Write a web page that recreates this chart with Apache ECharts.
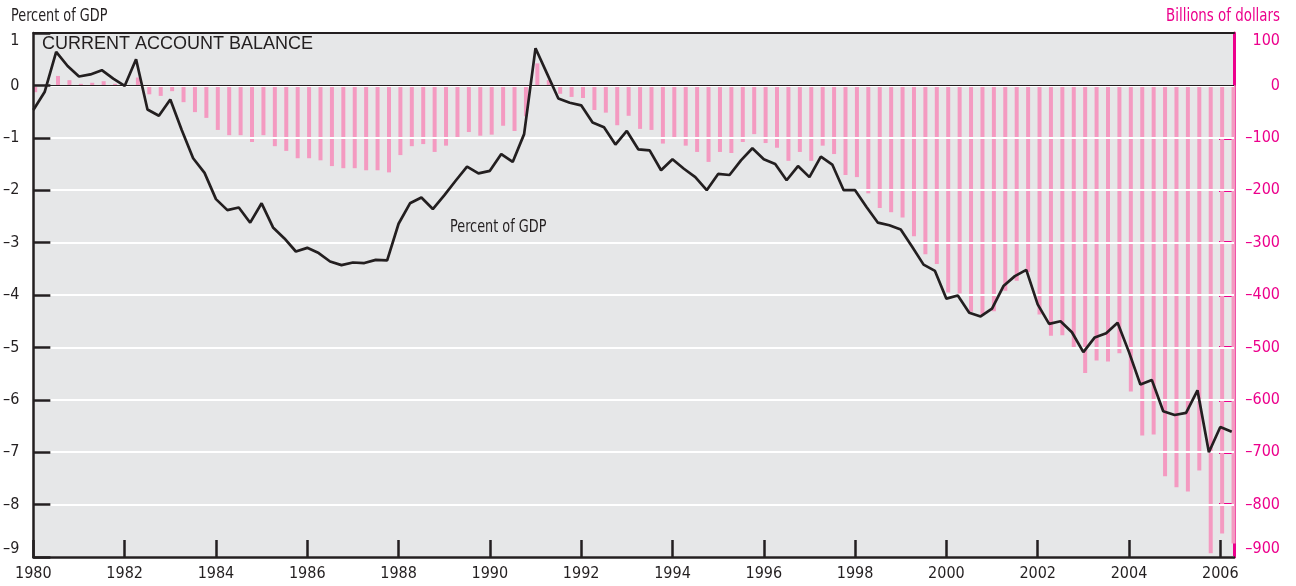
<!DOCTYPE html>
<html>
<head>
<meta charset="utf-8">
<script src="https://cdn.jsdelivr.net/npm/echarts@6/dist/echarts.min.js"></script>
<style>
html,body{margin:0;padding:0;background:#ffffff;}
#chart{width:1296px;height:586px;}
</style>
</head>
<body>
<div id="chart"></div>
<script>
// ---- Data (quarterly, 1980 Q1 – 2006 Q2) ----
const startYear = 1980;
const quartersPerYear = 4;

// Current account balance, percent of GDP (line, left axis)
const percentOfGDP = [
  -0.47, -0.12, 0.64, 0.37,   0.17, 0.21, 0.29, 0.13,     // 1980-81
  -0.01, 0.50, -0.46, -0.58,  -0.27, -0.85, -1.39, -1.67, // 1982-83
  -2.17, -2.38, -2.33, -2.62, -2.25, -2.71, -2.92, -3.17, // 1984-85
  -3.10, -3.20, -3.36, -3.43, -3.38, -3.39, -3.33, -3.34, // 1986-87
  -2.64, -2.25, -2.14, -2.36, -2.10, -1.82, -1.55, -1.68, // 1988-89
  -1.63, -1.31, -1.46, -0.93, 0.71, 0.23, -0.25, -0.33,   // 1990-91
  -0.38, -0.71, -0.80, -1.13, -0.87, -1.22, -1.24, -1.62, // 1992-93
  -1.41, -1.59, -1.75, -2.00, -1.69, -1.71, -1.43, -1.20, // 1994-95
  -1.41, -1.50, -1.81, -1.54, -1.75, -1.36, -1.51, -2.00, // 1996-97
  -2.00, -2.32, -2.62, -2.67, -2.75, -3.08, -3.42, -3.54, // 1998-99
  -4.07, -4.01, -4.34, -4.41, -4.26, -3.83, -3.64, -3.52, // 2000-01
  -4.18, -4.55, -4.50, -4.71, -5.09, -4.81, -4.73, -4.53, // 2002-03
  -5.09, -5.71, -5.62, -6.22, -6.29, -6.25, -5.82, -7.00, // 2004-05
  -6.52, -6.61                                             // 2006
];

// Current account balance, billions of dollars (bars, right axis)
const billionsOfDollars = [
  -13, -2, 18, 10,       3, 5, 8, 3,                // 1980-81
  -1, 15, -17, -20,      -11, -32, -51, -62,        // 1982-83
  -85, -95, -95, -108,   -95, -116, -125, -139,     // 1984-85
  -139, -143, -154, -158, -158, -162, -162, -166,   // 1986-87
  -133, -116, -112, -127, -115, -100, -89, -96,     // 1988-89
  -94, -77, -87, -59,    42, 10, -16, -22,          // 1990-91
  -24, -47, -52, -76,    -58, -83, -85, -111,       // 1992-93
  -100, -115, -127, -146, -127, -129, -108, -93,    // 1994-95
  -110, -119, -144, -127, -144, -115, -131, -171,   // 1996-97
  -175, -206, -234, -242, -252, -288, -322, -341,   // 1998-99
  -395, -397, -432, -439, -431, -392, -373, -356,   // 2000-01
  -437, -478, -477, -502, -549, -525, -527, -511,   // 2002-03
  -584, -668, -666, -746, -767, -775, -735, -893,   // 2004-05
  -855, -874                                         // 2006
];

const xTickLabels = ['1980','1982','1984','1986','1988','1990','1992','1994','1996','1998','2000','2002','2004','2006'];
const leftTickLabels = ['1','0','–1','–2','–3','–4','–5','–6','–7','–8','–9'];
const rightTickLabels = ['100','0','–100','–200','–300','–400','–500','–600','–700','–800','–900'];
const rightTickMarks = [-800, -700, -600, -500, -400, -300, -200, -100];

// ---- Build series positions (decimal years) ----
const quarterPos = percentOfGDP.map((_, i) => startYear + i / quartersPerYear);
const barShift = 0.04; // bars sit just to the right of the quarter point
const lineData = percentOfGDP.map((v, i) => [quarterPos[i], v]);
const barData = billionsOfDollars.map((v, i) => [quarterPos[i] + barShift, v]);
const xTickValues = xTickLabels.map(Number);

const NARROW = "'Liberation Sans Narrow', 'DejaVu Sans Condensed', sans-serif";
const WIDE = "'Liberation Sans', Arial, sans-serif";
const INK = '#231f20';
const MAGENTA = '#ec008c';
const PINK = '#f49ac1';
const AXIS_FONT = 16;

const chart = echarts.init(document.getElementById('chart'), null, {renderer: 'canvas'});
const option = {
  animation: false,
  grid: {
    left: 32, right: 62, top: 33, bottom: 29,
    show: true, backgroundColor: '#e6e7e8', borderWidth: 0
  },
  xAxis: [
    {
      type: 'value', min: 1980, max: 2006.3, interval: 2, position: 'bottom', z: 3,
      axisLine: {show: true, onZero: false, lineStyle: {color: INK, width: 2.5}},
      axisTick: {show: true, inside: true, length: 17, customValues: xTickValues,
        lineStyle: {color: INK, width: 2.5}},
      axisLabel: {
        margin: 9, fontSize: AXIS_FONT, color: INK, fontFamily: NARROW,
        customValues: xTickValues,
        formatter: function (v) { return String(Math.round(v)); }
      },
      splitLine: {show: false}
    },
    {
      type: 'value', min: 1980, max: 2006.3, position: 'top', z: 3,
      axisLine: {show: true, onZero: false, lineStyle: {color: INK, width: 2}},
      axisTick: {show: false}, axisLabel: {show: false}, splitLine: {show: false}
    }
  ],
  yAxis: [
    {
      type: 'value', min: -9, max: 1, interval: 1, position: 'left', z: 3,
      axisLine: {show: true, onZero: false, lineStyle: {color: INK, width: 2.5}},
      axisTick: {show: true, inside: true, length: 17, lineStyle: {color: INK, width: 2.5}},
      axisLabel: {
        margin: 14, fontSize: AXIS_FONT, color: INK, fontFamily: NARROW,
        verticalAlignMaxLabel: 'top', verticalAlignMinLabel: 'bottom',
        formatter: function (v) {
          const idx = Math.round(1 - v);
          return leftTickLabels[idx] !== undefined ? leftTickLabels[idx] : '';
        }
      },
      splitLine: {show: true, lineStyle: {color: '#ffffff', width: 2}}
    },
    {
      type: 'value', min: -900, max: 100, interval: 100, position: 'right', z: 1,
      axisLine: {show: true, onZero: false, lineStyle: {color: MAGENTA, width: 3}},
      axisTick: {show: true, inside: true, length: 15, customValues: rightTickMarks,
        lineStyle: {color: MAGENTA, width: 3}},
      axisLabel: {
        margin: 46, align: 'right', fontSize: AXIS_FONT, color: MAGENTA, fontFamily: NARROW,
        verticalAlignMaxLabel: 'top', verticalAlignMinLabel: 'bottom',
        formatter: function (v) {
          const idx = Math.round((100 - v) / 100);
          return rightTickLabels[idx] !== undefined ? rightTickLabels[idx] : '';
        }
      },
      splitLine: {show: false}
    }
  ],
  graphic: [
    {type: 'text', z: 10, x: 42, y: 44,
      style: {text: 'CURRENT ACCOUNT BALANCE', fill: INK,
      font: "18px " + WIDE, textAlign: 'left', textVerticalAlign: 'middle'}},
    {type: 'text', z: 10, x: 11, y: 17, scaleX: 0.84,
      style: {text: 'Percent of GDP', fill: INK,
      font: "17px " + NARROW, textAlign: 'left', textVerticalAlign: 'middle'}},
    {type: 'text', z: 10, x: 1280, y: 17, scaleX: 0.875,
      style: {text: 'Billions of dollars', fill: MAGENTA,
      font: "17px " + NARROW, textAlign: 'right', textVerticalAlign: 'middle'}},
    {type: 'text', z: 10, x: 450, y: 228, scaleX: 0.84,
      style: {text: 'Percent of GDP', fill: INK,
      font: "17px " + NARROW, textAlign: 'left', textVerticalAlign: 'middle'}}
  ],
  series: [
    {
      type: 'bar', xAxisIndex: 0, yAxisIndex: 1, data: barData, barWidth: 4,
      itemStyle: {color: PINK}, z: 2, silent: true
    },
    {
      type: 'line', xAxisIndex: 0, yAxisIndex: 0, data: lineData, symbol: 'none',
      lineStyle: {color: INK, width: 2.7}, z: 4, silent: true,
      markLine: {
        silent: true, symbol: 'none', label: {show: false},
        lineStyle: {color: INK, width: 1.2, type: 'solid'},
        data: [{yAxis: 0}]
      }
    }
  ]
};
chart.setOption(option);
</script>
</body>
</html>
